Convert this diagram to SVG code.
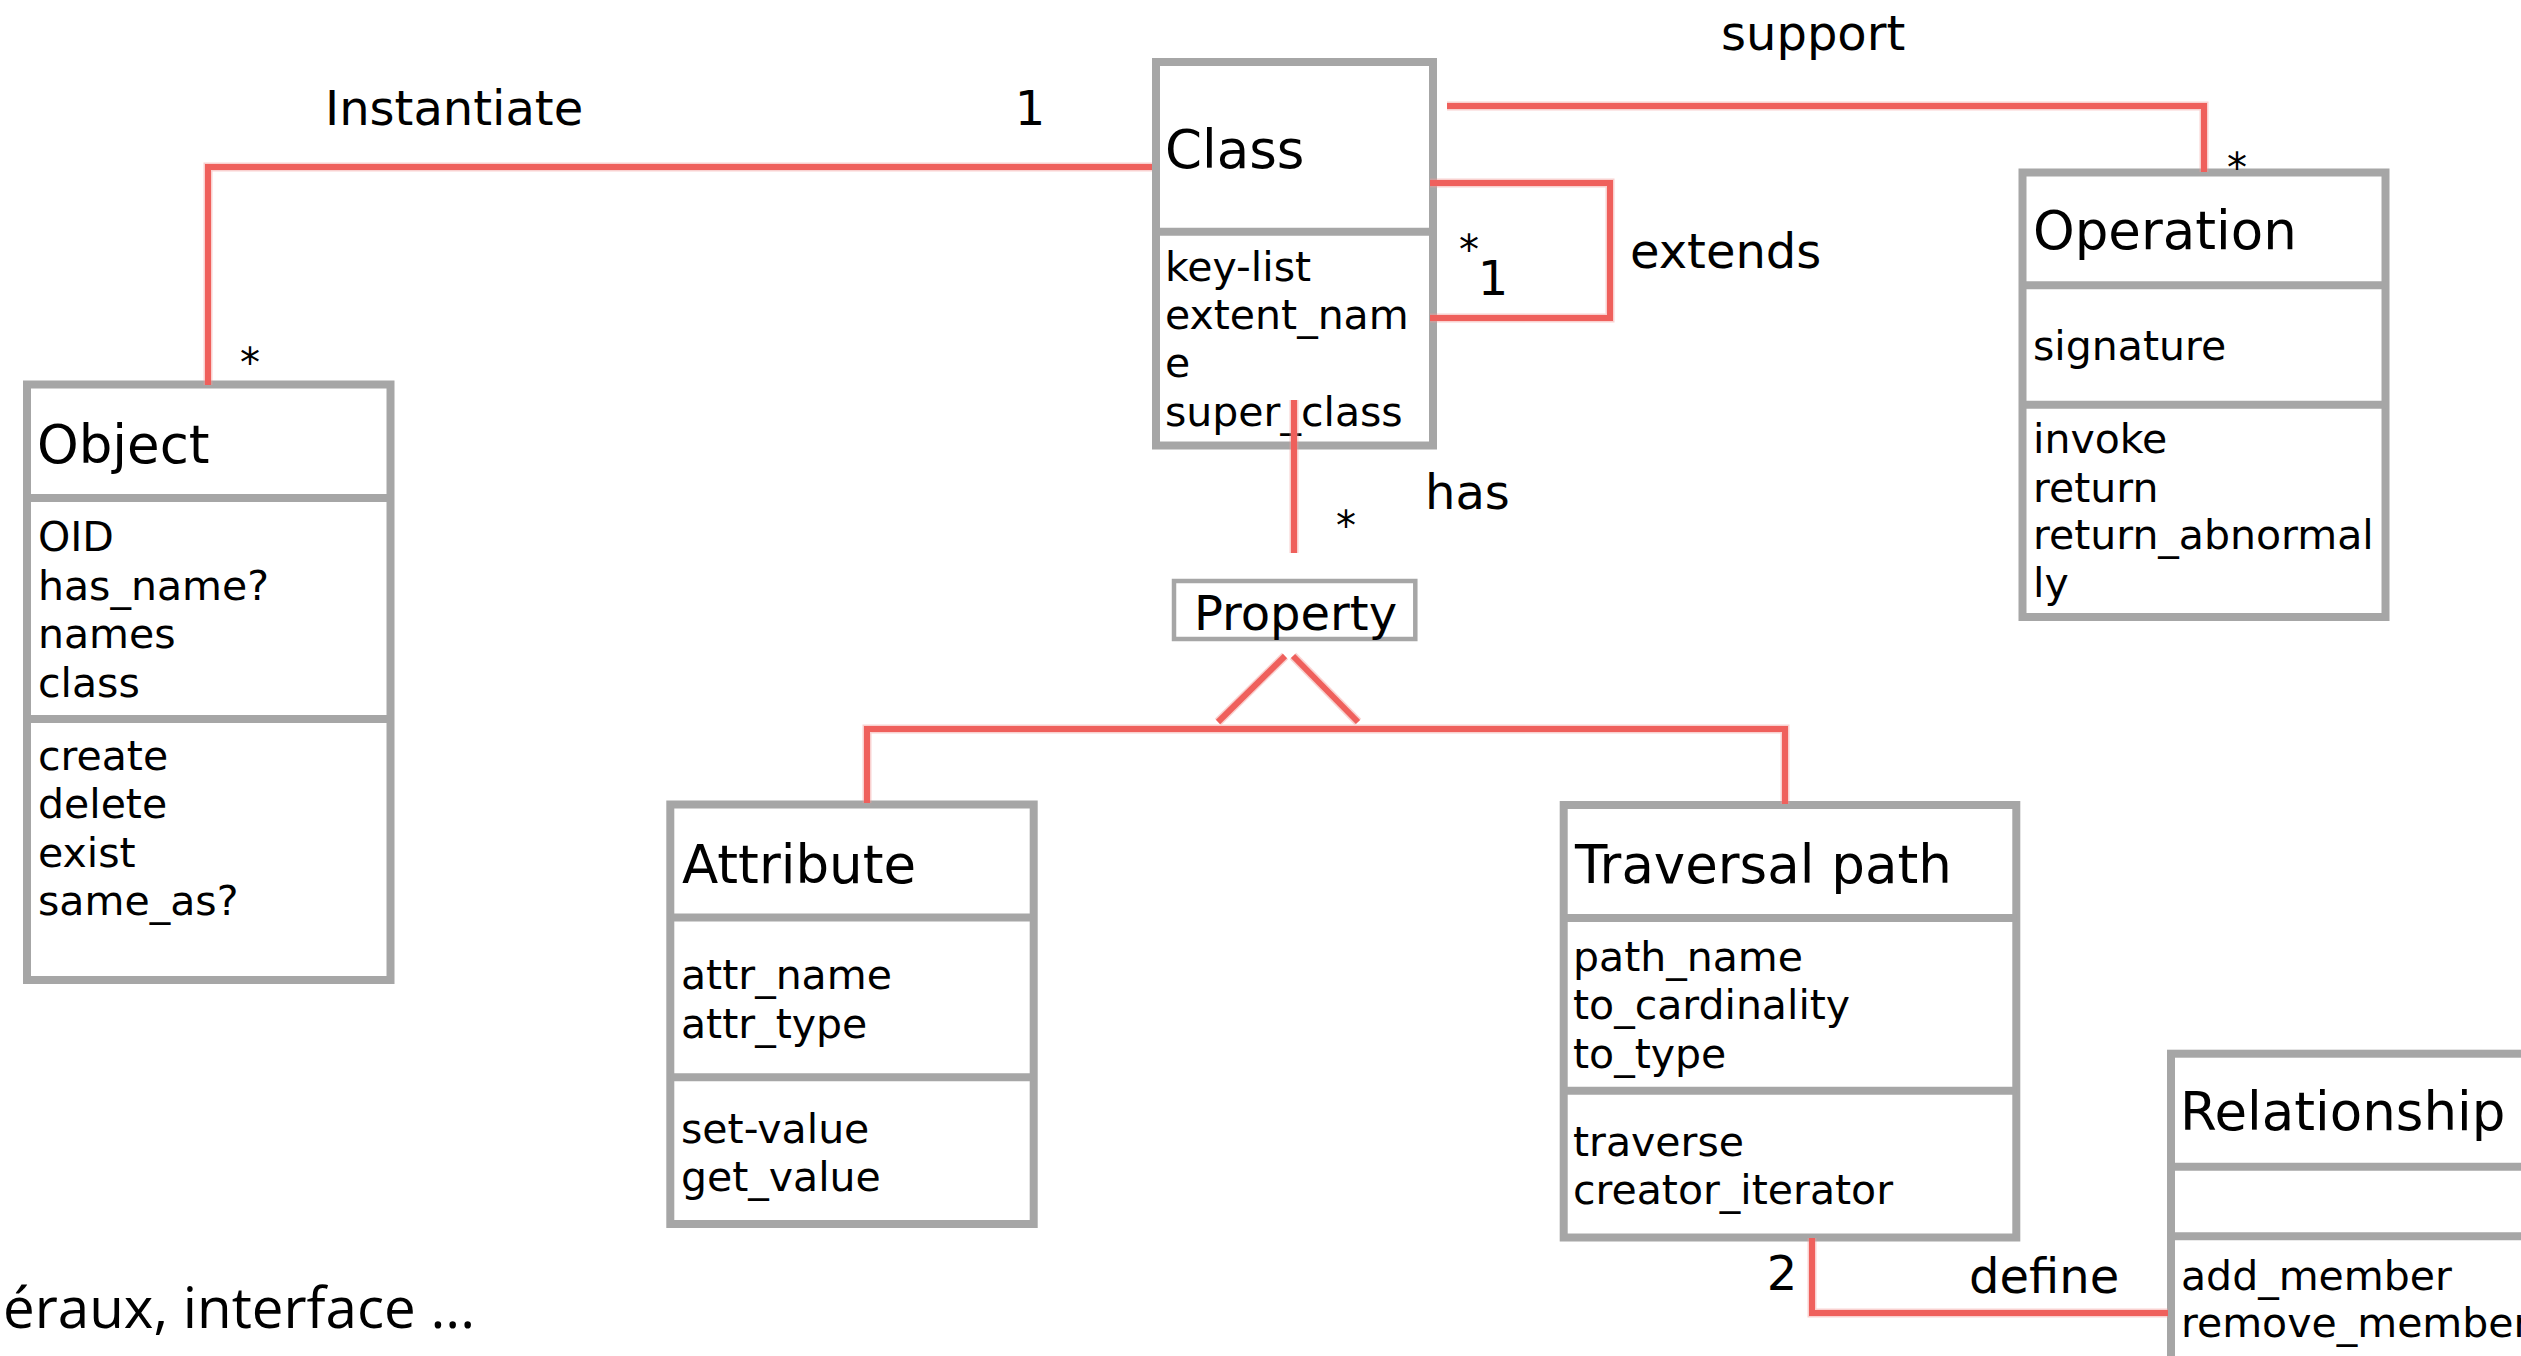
<svg xmlns="http://www.w3.org/2000/svg" width="2521" height="1356" viewBox="0 0 2521 1356">
<style>
.box{fill:#ffffff;stroke:#a6a6a6;stroke-width:8}
.div{stroke:#a6a6a6;stroke-width:8}
.t{font-family:"DejaVu Sans",Verdana,sans-serif;fill:#000}
.title{font-size:53px}
.attr{font-size:41px}
.lbl{font-size:48px}
.mult{font-size:40px}
.conn{fill:none;stroke:#ef605c;stroke-width:6;stroke-linejoin:miter}
.halo{fill:none;stroke:#f29a97;stroke-width:9;opacity:0.45}
.note{font-family:"Open Sans","Liberation Sans",sans-serif;font-size:56.5px;fill:#000}
</style>
<rect width="2521" height="1356" fill="#ffffff"/>

<g id="class">
  <rect class="box" x="1156" y="62" width="277" height="383.5"/>
  <line class="div" x1="1156" y1="231.7" x2="1433" y2="231.7"/>
  <text class="t title" x="1165" y="167.7">Class</text>
  <text class="t attr" x="1165" y="280.7">key-list</text>
  <text class="t attr" x="1165" y="329.3">extent_nam</text>
  <text class="t attr" x="1165" y="376.7">e</text>
  <text class="t attr" x="1165" y="426">super_class</text>
</g>

<g id="object">
  <rect class="box" x="27" y="384.5" width="363.5" height="595.5"/>
  <line class="div" x1="27" y1="498" x2="390.5" y2="498"/>
  <line class="div" x1="27" y1="719" x2="390.5" y2="719"/>
  <text class="t title" x="37" y="462.7">Object</text>
  <text class="t attr" x="38" y="551">OID</text>
  <text class="t attr" x="38" y="599.5">has_name?</text>
  <text class="t attr" x="38" y="648">names</text>
  <text class="t attr" x="38" y="696.5">class</text>
  <text class="t attr" x="38" y="770">create</text>
  <text class="t attr" x="38" y="818.3">delete</text>
  <text class="t attr" x="38" y="866.7">exist</text>
  <text class="t attr" x="38" y="915">same_as?</text>
</g>

<g id="operation">
  <rect class="box" x="2022.5" y="172.5" width="363" height="444.5"/>
  <line class="div" x1="2022.5" y1="285.3" x2="2385.5" y2="285.3"/>
  <line class="div" x1="2022.5" y1="404.7" x2="2385.5" y2="404.7"/>
  <text class="t title" x="2033" y="249.3">Operation</text>
  <text class="t attr" x="2033" y="360">signature</text>
  <text class="t attr" x="2033" y="453.3">invoke</text>
  <text class="t attr" x="2033" y="501.7">return</text>
  <text class="t attr" x="2033" y="549.3">return_abnormal</text>
  <text class="t attr" x="2033" y="596.7">ly</text>
</g>

<g id="property">
  <rect x="1174" y="581" width="241.3" height="58" fill="#ffffff" stroke="#a6a6a6" stroke-width="4.5"/>
  <text class="t lbl" x="1295.5" y="630" text-anchor="middle">Property</text>
</g>

<g id="attribute">
  <rect class="box" x="670.3" y="804.5" width="363.4" height="419.5"/>
  <line class="div" x1="670.3" y1="917.5" x2="1033.7" y2="917.5"/>
  <line class="div" x1="670.3" y1="1077.3" x2="1033.7" y2="1077.3"/>
  <text class="t title" x="682" y="882.5">Attribute</text>
  <text class="t attr" x="681" y="989.3">attr_name</text>
  <text class="t attr" x="681" y="1037.5">attr_type</text>
  <text class="t attr" x="681" y="1142.5">set-value</text>
  <text class="t attr" x="681" y="1190.7">get_value</text>
</g>

<g id="traversal-path">
  <rect class="box" x="1563.7" y="805" width="452.6" height="432.5"/>
  <line class="div" x1="1563.7" y1="917.9" x2="2016.3" y2="917.9"/>
  <line class="div" x1="1563.7" y1="1090.7" x2="2016.3" y2="1090.7"/>
  <text class="t title" x="1575" y="882.9">Traversal path</text>
  <text class="t attr" x="1573" y="971.4">path_name</text>
  <text class="t attr" x="1573" y="1019">to_cardinality</text>
  <text class="t attr" x="1573" y="1067.9">to_type</text>
  <text class="t attr" x="1573" y="1156.4">traverse</text>
  <text class="t attr" x="1573" y="1204.3">creator_iterator</text>
</g>

<g id="relationship">
  <rect class="box" x="2171" y="1053.7" width="420" height="400"/>
  <line class="div" x1="2171" y1="1166.7" x2="2591" y2="1166.7"/>
  <line class="div" x1="2171" y1="1236.2" x2="2591" y2="1236.2"/>
  <text class="t title" x="2180" y="1130">Relationship</text>
  <text class="t attr" x="2181" y="1289.5">add_member</text>
  <text class="t attr" x="2181" y="1337">remove_member</text>
</g>

<g id="connectors">
  <g class="halo">
    <polyline points="208,385 208,167 1152,167"/>
    <polyline points="1447,106 2204,106 2204,172"/>
    <polyline points="1430,183 1610,183 1610,318 1430,318"/>
    <line x1="1294" y1="400" x2="1294" y2="553"/>
    <line x1="1218" y1="722" x2="1285" y2="656"/>
    <line x1="1293" y1="656" x2="1358" y2="722"/>
    <polyline points="867,803 867,729 1785,729 1785,804"/>
    <polyline points="1812,1238 1812,1313 2168,1313"/>
  </g>
  <g class="conn">
    <polyline id="instantiate" points="208,385 208,167 1152,167"/>
    <polyline id="support" points="1447,106 2204,106 2204,172"/>
    <polyline id="extends" points="1430,183 1610,183 1610,318 1430,318"/>
    <line id="has" x1="1294" y1="400" x2="1294" y2="553"/>
    <line x1="1218" y1="722" x2="1285" y2="656"/>
    <line x1="1293" y1="656" x2="1358" y2="722"/>
    <polyline id="generalization" points="867,803 867,729 1785,729 1785,804"/>
    <polyline id="define" points="1812,1238 1812,1313 2168,1313"/>
  </g>
  <text class="t lbl" x="325" y="125">Instantiate</text>
  <text class="t lbl" x="1030" y="125" text-anchor="middle">1</text>
  <text class="t mult" x="250" y="377" text-anchor="middle">*</text>
  <text class="t lbl" x="1721" y="50">support</text>
  <text class="t mult" x="2237" y="182" text-anchor="middle">*</text>
  <text class="t lbl" x="1630" y="268">extends</text>
  <text class="t mult" x="1469" y="264" text-anchor="middle">*</text>
  <text class="t lbl" x="1493" y="295" text-anchor="middle">1</text>
  <text class="t lbl" x="1425" y="509">has</text>
  <text class="t mult" x="1346" y="540" text-anchor="middle">*</text>
  <text class="t lbl" x="1782" y="1290" text-anchor="middle">2</text>
  <text class="t lbl" x="1969" y="1293">define</text>
</g>

<text class="note" x="3" y="1328">éraux, interface ...</text>
</svg>
